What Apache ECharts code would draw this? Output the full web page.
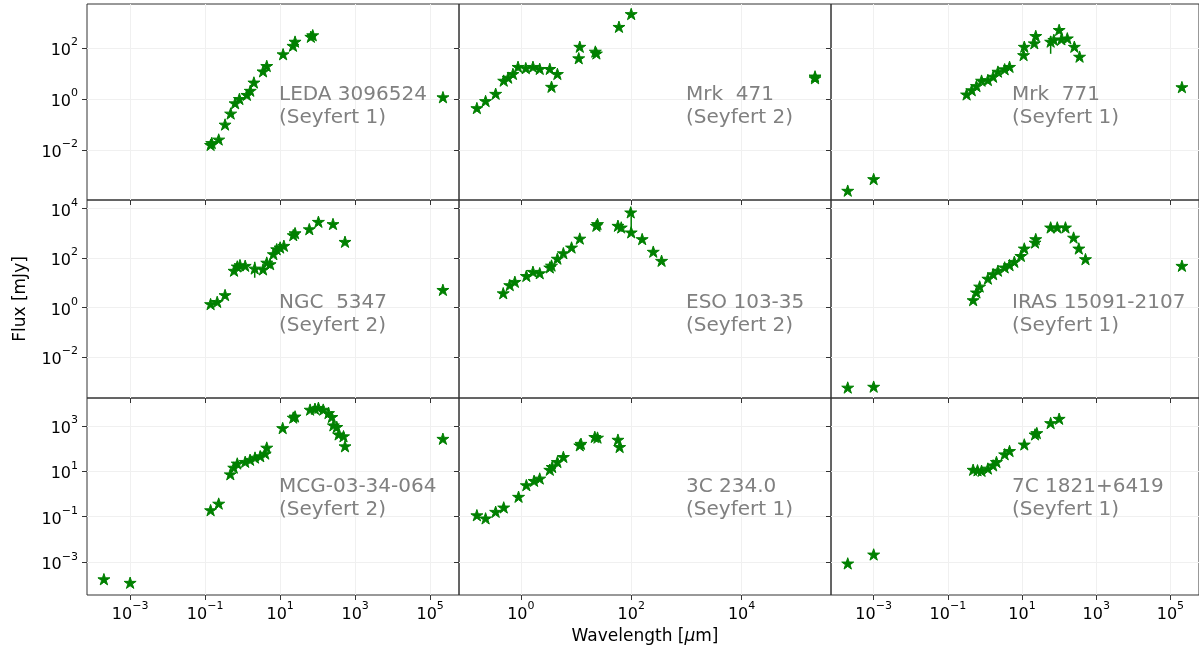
<!DOCTYPE html>
<html>
<head>
<meta charset="utf-8">
<script src="https://cdn.jsdelivr.net/npm/echarts@6/dist/echarts.min.js"></script>
<style>
html, body { margin: 0; padding: 0; background: #fff; }
#sed { width: 1199px; height: 654px; }
</style>
</head>
<body>
<div id="sed"></div>
<script>
// SED points: [wavelength (um), flux (mJy)]
var sedLeda3096524 = [[0.14, 0.016], [0.15, 0.019], [0.23, 0.026], [0.34, 0.1], [0.48, 0.27], [0.63, 0.68], [0.82, 1.0], [1.3, 1.45], [1.6, 2.1], [2.0, 4.4], [3.5, 12], [4.4, 19.5], [12, 56], [22, 120], [25, 174], [66, 270], [74, 310], [2.2e5, 1.17]];
var sedMrk471 = [[0.16, 0.44], [0.23, 0.83], [0.35, 1.6], [0.49, 5.2], [0.59, 6.8], [0.72, 9.5], [0.89, 18], [1.23, 16], [1.66, 18], [2.2, 15], [3.35, 15], [3.6, 3.0], [4.6, 9.5], [11.2, 39], [11.7, 110], [22.4, 71], [23.4, 60], [60, 660], [100, 2090], [2.14e5, 6.5], [2.14e5, 7.6]];
var sedMrk771 = [[2.0e-4, 2.6e-4], [1e-3, 7.4e-4], [0.32, 1.5], [0.44, 2.2], [0.59, 3.2], [0.81, 5.2], [1.2, 5.5], [1.66, 7.4], [2.24, 11.7], [3.4, 14.5], [4.6, 18], [11, 52], [11.5, 110], [21.4, 150], [23.4, 290], [59, 174], [72, 204], [100, 500], [115, 214], [166, 234], [257, 110], [355, 45], [2.04e5, 2.9]];
var sedNgc5347 = [[0.14, 1.38], [0.21, 1.7], [0.34, 3.2], [0.59, 31], [0.72, 46], [0.85, 52], [1.17, 49], [2.1, 38], [3.5, 35], [4.4, 66], [5.4, 57], [6.6, 145], [8.1, 229], [10, 269], [12.6, 316], [22.4, 850], [25, 1020], [60, 1480], [105, 2950], [257, 2400], [537, 457], [2.19e5, 5.2]];
var sedEso10335 = [[0.48, 3.8], [0.63, 8.1], [0.78, 11], [1.26, 19], [1.66, 28], [2.2, 24.5], [3.35, 42], [3.6, 50], [4.6, 95], [5.9, 158], [8.3, 269], [11.7, 617], [23.4, 2040], [24.5, 2400], [57.5, 2040], [66, 1740], [98, 7080], [100, 1100], [158, 589], [251, 182], [355, 78]];
var sedIras15091 = [[2.0e-4, 5.8e-4], [1e-3, 6.3e-4], [0.48, 2.0], [0.59, 4.1], [0.72, 7.1], [1.2, 14.8], [1.66, 22.4], [2.24, 31], [3.4, 42], [4.6, 52], [6.2, 71], [9.3, 123], [11.5, 245], [22.4, 427], [23.4, 589], [59, 1740], [89, 1740], [148, 1740], [245, 676], [339, 245], [513, 91], [2.04e5, 49]];
var sedMcg033464 = [[2.0e-4, 1.8e-4], [1e-3, 1.26e-4], [0.14, 0.195], [0.23, 0.38], [0.47, 7.4], [0.58, 14.5], [0.72, 22], [1.17, 26], [1.58, 32], [2.14, 40], [2.95, 46], [4.0, 60], [4.4, 110], [11.7, 794], [22.4, 2290], [25, 2570], [63, 5130], [85, 5620], [105, 6170], [141, 5130], [195, 3630], [240, 2450], [263, 1050], [324, 891], [363, 417], [490, 347], [537, 126], [2.19e5, 269]];
var sed3C2340 = [[0.16, 0.117], [0.23, 0.085], [0.35, 0.166], [0.49, 0.257], [0.91, 0.76], [1.26, 2.45], [1.74, 3.8], [2.2, 4.8], [3.35, 11.7], [3.7, 15.5], [4.6, 25.7], [5.9, 42.7], [11.7, 138], [12.3, 162], [21.9, 324], [24.5, 302], [57.5, 245], [61.7, 117]];
var sed7C1821 = [[2.0e-4, 8.9e-4], [1e-3, 2.2e-3], [0.48, 11.7], [0.63, 11], [0.81, 10.5], [1.2, 13.2], [1.66, 18.2], [2.04, 25.7], [3.4, 56], [4.6, 78], [11.5, 151], [22.4, 417], [25, 479], [59, 1320], [100, 2040]];

// error bars: [wavelength, low, high]
var errMrk771 = [[59, 58, 290]];
var errNgc5347 = [[2.1, 16, 71]];
var errEso10335 = [[100, 1100, 7080]];

var names = ['LEDA 3096524', 'Mrk  471', 'Mrk  771', 'NGC  5347', 'ESO 103-35', 'IRAS 15091-2107', 'MCG-03-34-064', '3C 234.0', '7C 1821+6419'];
var kinds = ['(Seyfert 1)', '(Seyfert 2)', '(Seyfert 1)', '(Seyfert 2)', '(Seyfert 2)', '(Seyfert 1)', '(Seyfert 2)', '(Seyfert 1)', '(Seyfert 1)'];
var seds = [sedLeda3096524, sedMrk471, sedMrk771, sedNgc5347, sedEso10335, sedIras15091, sedMcg033464, sed3C2340, sed7C1821];
var errs = [[], [], errMrk771, errNgc5347, errEso10335, [], [], [], []];

// tick values per column / row
var xTicks = [[1e-3, 1e-1, 1e1, 1e3, 1e5], [1e0, 1e2, 1e4], [1e-3, 1e-1, 1e1, 1e3, 1e5]];
var yTicks = [[1e-2, 1e0, 1e2], [1e-2, 1e0, 1e2, 1e4], [1e-3, 1e-1, 1e1, 1e3]];

// axis limits as log10
var xLim = [[-4.15, 5.77], [-1.12, 5.62], [-4.15, 5.77]];
var yLim = [[-3.95, 3.71], [-3.66, 4.35], [-4.44, 4.22]];

var colLeft = [87, 459, 831];
var colWidth = 372;
var rowTop = [4, 200, 398];
var rowHeight = [196, 198, 197];
var textLeft = [279, 686, 1012];
var textTop = [83, 291, 475];

var font = 'DejaVu Sans';
var green = '#008000';

var star = (function () {
    var pts = [];
    for (var i = 0; i < 10; i++) {
        var r = i % 2 ? 0.382 : 1;
        var a = Math.PI * i / 5 - Math.PI / 2;
        pts.push((r * Math.cos(a)).toFixed(4) + ' ' + (r * Math.sin(a)).toFixed(4));
    }
    return 'path://M' + pts.join(' L') + ' Z';
})();

var tickRich = {
    b: {fontSize: 16, fontFamily: font, color: '#000', lineHeight: 22, verticalAlign: 'bottom'},
    s: {fontSize: 11, fontFamily: font, color: '#000', lineHeight: 22, verticalAlign: 'top'}
};

function powLabel(v) {
    var e = Math.round(Math.log10(v));
    return '{b|10}{s|' + (e < 0 ? '\u2212' + (-e) : e) + '}';
}

var grids = [], xAxes = [], yAxes = [], series = [], graphics = [];

for (var i = 0; i < 9; i++) {
    var r = Math.floor(i / 3), c = i % 3;
    grids.push({
        left: colLeft[c], top: rowTop[r], width: colWidth, height: rowHeight[r],
        show: true, borderColor: '#333', borderWidth: 1, backgroundColor: 'transparent'
    });
    xAxes.push({
        type: 'log', logBase: 10, gridIndex: i,
        min: Math.pow(10, xLim[c][0]), max: Math.pow(10, xLim[c][1]),
        axisLine: {show: false},
        axisTick: {show: true, length: 5, customValues: xTicks[c], lineStyle: {color: '#333'}},
        axisLabel: {show: r === 2, customValues: xTicks[c], formatter: powLabel, margin: 6, rich: tickRich},
        splitLine: {show: true, lineStyle: {color: '#f0f0f0'}},
        name: (r === 2 && c === 1) ? 'Wavelength [{i|\u03bc}m]' : '',
        nameLocation: 'middle', nameGap: 33,
        nameTextStyle: {fontSize: 17, fontFamily: font, color: '#000', rich: {i: {fontSize: 17, fontFamily: font, fontStyle: 'italic'}}}
    });
    yAxes.push({
        type: 'log', logBase: 10, gridIndex: i,
        min: Math.pow(10, yLim[r][0]), max: Math.pow(10, yLim[r][1]),
        axisLine: {show: false},
        axisTick: {show: true, length: 5, customValues: yTicks[r], lineStyle: {color: '#333'}},
        axisLabel: {show: c === 0, customValues: yTicks[r], formatter: powLabel, margin: 9, rich: tickRich},
        splitLine: {show: true, lineStyle: {color: '#f0f0f0'}},
        name: (r === 1 && c === 0) ? 'Flux [mJy]' : '',
        nameLocation: 'middle', nameGap: 58,
        nameTextStyle: {fontSize: 17, fontFamily: font, color: '#000'}
    });
    series.push({
        type: 'scatter', xAxisIndex: i, yAxisIndex: i,
        data: seds[i],
        symbol: star, symbolSize: 12, symbolKeepAspect: true,
        itemStyle: {color: green, opacity: 1, borderColor: green, borderWidth: 1},
        z: 3
    });
    if (errs[i].length) {
        series.push({
            type: 'custom', xAxisIndex: i, yAxisIndex: i,
            data: errs[i],
            encode: {x: 0, y: [1, 2]},
            renderItem: function (params, api) {
                var a = api.coord([api.value(0), api.value(1)]);
                var b = api.coord([api.value(0), api.value(2)]);
                return {type: 'line', shape: {x1: a[0], y1: a[1], x2: b[0], y2: b[1]}, style: {stroke: green, lineWidth: 1.5}};
            },
            z: 2
        });
    }
    graphics.push({
        type: 'text', left: textLeft[c], top: textTop[r], z: 10,
        style: {text: names[i] + '\n' + kinds[i], fontSize: 20, lineHeight: 23, fontFamily: font, fill: '#808080'}
    });
}

var chart = echarts.init(document.getElementById('sed'));
chart.setOption({
    animation: false,
    grid: grids,
    xAxis: xAxes,
    yAxis: yAxes,
    series: series,
    graphic: graphics
});
</script>
</body>
</html>
